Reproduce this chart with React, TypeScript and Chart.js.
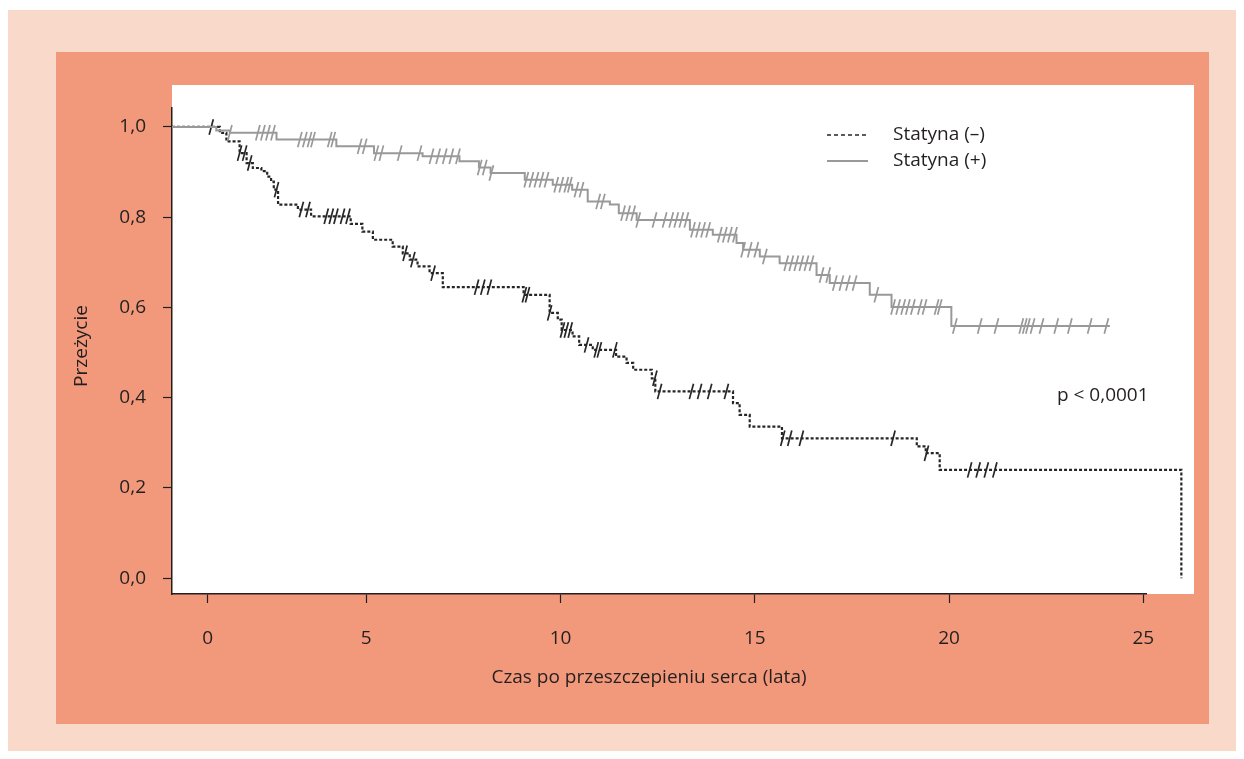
import React, { useEffect, useRef } from 'react';
import { Chart, registerables } from 'chart.js';

Chart.register(...registerables);

const FONT = '"Open Sans", Lato, sans-serif';
const TEXT = '#231f20';

// ---------- data ----------
const seriesLabels = ['Statyna (–)', 'Statyna (+)'];

// Kaplan–Meier steps, Statyna (–): time (years) and survival from that time on
const statinNegTimes = [0, 1.23, 1.4, 1.74, 1.92, 2.08, 2.3, 2.45, 2.55, 2.62, 2.73, 3.24, 3.58, 4.6, 4.9, 5.17, 5.68, 5.94, 6.12, 6.32, 6.63, 6.97, 9.05, 9.72, 9.93, 10.03, 10.31, 10.48, 10.83, 11.43, 11.7, 11.87, 12.35, 12.44, 14.44, 14.61, 14.87, 15.7, 19.17, 19.4, 19.76, 25.98];
const statinNegSurv = [1.0, 0.987, 0.968, 0.942, 0.92, 0.909, 0.902, 0.89, 0.879, 0.861, 0.828, 0.817, 0.802, 0.785, 0.768, 0.75, 0.735, 0.72, 0.706, 0.691, 0.676, 0.645, 0.628, 0.588, 0.573, 0.55, 0.536, 0.517, 0.506, 0.491, 0.477, 0.462, 0.443, 0.414, 0.388, 0.362, 0.336, 0.31, 0.292, 0.277, 0.24, 0.0];

// Kaplan–Meier steps, Statyna (+)
const statinPosTimes = [0, 1.14, 1.49, 2.69, 4.23, 5.2, 6.45, 7.4, 7.9, 8.2, 9.08, 9.8, 10.3, 10.7, 11.27, 11.5, 11.96, 13.33, 13.92, 14.53, 14.7, 15.13, 15.64, 16.59, 16.93, 17.96, 18.52, 20.06, 24.14];
const statinPosSurv = [1.0, 0.992, 0.987, 0.972, 0.957, 0.942, 0.935, 0.924, 0.91, 0.898, 0.883, 0.872, 0.861, 0.835, 0.828, 0.809, 0.794, 0.772, 0.761, 0.743, 0.728, 0.713, 0.698, 0.672, 0.654, 0.628, 0.601, 0.559, 0.559];

// censored observations (years)
const statinNegCensor = [1.01, 1.74, 1.87, 2.0, 2.69, 3.33, 3.5, 3.97, 4.1, 4.22, 4.39, 4.53, 6.0, 6.2, 6.72, 7.84, 8.0, 8.17, 9.07, 9.15, 9.72, 10.05, 10.15, 10.25, 10.67, 10.92, 11.0, 11.4, 12.43, 12.55, 13.37, 13.58, 13.84, 14.27, 15.72, 15.9, 16.2, 18.56, 19.42, 20.53, 20.75, 20.96, 21.18, 25.38];
const statinPosCensor = [1.49, 2.21, 2.34, 2.47, 2.6, 3.29, 3.42, 3.54, 3.63, 4.06, 4.15, 4.83, 4.96, 5.26, 5.39, 5.86, 6.37, 6.68, 6.85, 7.02, 7.19, 7.36, 7.92, 8.05, 8.22, 9.12, 9.25, 9.38, 9.51, 9.64, 9.89, 10.02, 10.15, 10.24, 10.41, 10.54, 10.97, 11.09, 11.61, 11.74, 11.87, 12.0, 12.42, 12.68, 12.85, 12.98, 13.11, 13.24, 13.41, 13.54, 13.67, 13.8, 14.1, 14.23, 14.36, 14.49, 14.7, 14.87, 15.04, 15.26, 15.81, 15.94, 16.07, 16.2, 16.33, 16.46, 16.72, 16.89, 17.06, 17.23, 17.4, 17.57, 18.13, 18.56, 18.69, 18.82, 18.94, 19.07, 19.25, 19.37, 19.68, 19.76, 20.15, 20.79, 21.22, 21.86, 21.95, 22.03, 22.15, 22.38, 22.76, 23.11, 23.62, 24.05];

// the reference draws its "0" tick slightly right of the curves' origin
const xTickValues = [0.92, 5, 10, 15, 20, 25];
const xTickLabels = ['0', '5', '10', '15', '20', '25'];
const yTickValues = [0, 0.2, 0.4, 0.6, 0.8, 1.0];

const xTitle = 'Czas po przeszczepieniu serca (lata)';
const yTitle = 'Przeżycie';
const pValueText = 'p < 0,0001';

// ---------- helpers ----------
const survivalAt = (times: number[], surv: number[], t: number) => {
  let v = surv[0];
  for (let i = 0; i < times.length; i++) {
    if (times[i] <= t) v = surv[i];
  }
  return v;
};

const NEG_COLOR = '#262626';
const POS_COLOR = '#999999';

const framePlugin = {
  id: 'frame',
  beforeDraw(chart: any) {
    const { ctx, chartArea, width, height } = chart;
    ctx.save();
    ctx.fillStyle = '#f9d9ca';
    ctx.fillRect(0, 2, width, height - 2);
    ctx.fillStyle = '#f2997b';
    ctx.fillRect(48, 44, 1153, 672);
    ctx.fillStyle = '#ffffff';
    ctx.fillRect(chartArea.left, chartArea.top - 23, chartArea.right - chartArea.left + 48, chartArea.bottom - chartArea.top + 23);
    ctx.restore();
  },
  afterDraw(chart: any) {
    const { ctx } = chart;
    ctx.save();
    ctx.fillStyle = TEXT;
    ctx.font = `19px ${FONT}`;
    // x title
    ctx.textAlign = 'center';
    ctx.textBaseline = 'middle';
    ctx.fillText(xTitle, 641, 670);
    // y title
    ctx.save();
    ctx.translate(74, 338);
    ctx.rotate(-Math.PI / 2);
    ctx.fillText(yTitle, 0, 0);
    ctx.restore();
    // p value
    ctx.textAlign = 'left';
    ctx.fillText(pValueText, 1049, 388);
    // legend
    const items = [
      { label: seriesLabels[0], color: NEG_COLOR, dash: [4, 3], width: 1.5, y: 127 },
      { label: seriesLabels[1], color: POS_COLOR, dash: [], width: 2, y: 153 },
    ];
    items.forEach((it) => {
      ctx.beginPath();
      ctx.setLineDash(it.dash);
      ctx.strokeStyle = it.color;
      ctx.lineWidth = it.width;
      ctx.moveTo(819, it.y);
      ctx.lineTo(860, it.y);
      ctx.stroke();
      ctx.setLineDash([]);
      ctx.fillStyle = TEXT;
      ctx.textAlign = 'left';
      ctx.textBaseline = 'middle';
      ctx.fillText(it.label, 885, it.y);
    });
    ctx.restore();
  },
};

export default function App() {
  const ref = useRef<HTMLCanvasElement | null>(null);

  useEffect(() => {
    if (!ref.current) return;
    const negLine = statinNegTimes.map((t, i) => ({ x: t, y: statinNegSurv[i] }));
    const posLine = statinPosTimes.map((t, i) => ({ x: t, y: statinPosSurv[i] }));
    const negCens = statinNegCensor.map((t) => ({ x: t, y: survivalAt(statinNegTimes, statinNegSurv, t) }));
    const posCens = statinPosCensor.map((t) => ({ x: t, y: survivalAt(statinPosTimes, statinPosSurv, t) }));

    const chart = new Chart(ref.current, {
      type: 'line',
      data: {
        datasets: [
          {
            label: seriesLabels[1],
            data: posLine,
            stepped: 'before',
            borderColor: POS_COLOR,
            borderWidth: 2,
            pointRadius: 0,
            clip: false,
          } as any,
          {
            label: seriesLabels[1] + ' censor',
            data: posCens,
            showLine: false,
            pointStyle: 'line',
            rotation: 105,
            pointRadius: 8,
            pointBorderWidth: 1.7,
            pointBorderColor: POS_COLOR,
            borderColor: POS_COLOR,
            clip: false,
          } as any,
          {
            label: seriesLabels[0],
            data: negLine,
            stepped: 'before',
            borderColor: NEG_COLOR,
            borderWidth: 2.2,
            borderDash: [3, 2],
            pointRadius: 0,
            clip: false,
          } as any,
          {
            label: seriesLabels[0] + ' censor',
            data: negCens,
            showLine: false,
            pointStyle: 'line',
            rotation: 105,
            pointRadius: 8,
            pointBorderWidth: 1.7,
            pointBorderColor: NEG_COLOR,
            borderColor: NEG_COLOR,
            clip: false,
          } as any,
        ],
      },
      options: {
        responsive: false,
        animation: false,
        devicePixelRatio: 1,
        layout: { padding: { left: 0, top: 100, right: 90, bottom: 0 } },
        plugins: { legend: { display: false }, tooltip: { enabled: false } },
        scales: {
          x: {
            type: 'linear',
            min: 0,
            max: 25.07,
            afterBuildTicks: (s: any) => {
              s.ticks = xTickValues.map((v) => ({ value: v }));
            },
            afterFit: (s: any) => {
              s.height = 157;
            },
            ticks: {
              callback: (_v: any, i: number) => xTickLabels[i],
              font: { family: FONT, size: 19 },
              color: TEXT,
              padding: 24,
              maxRotation: 0,
              autoSkip: false,
            },
            grid: {
              display: true,
              drawOnChartArea: false,
              drawTicks: true,
              tickLength: 9,
              tickColor: TEXT,
              tickWidth: 1.2,
            },
            border: { display: true, color: TEXT, width: 1.5 },
          },
          y: {
            type: 'linear',
            min: -0.035,
            max: 1.042,
            afterBuildTicks: (s: any) => {
              s.ticks = yTickValues.map((v) => ({ value: v }));
            },
            afterFit: (s: any) => {
              s.width = 164;
            },
            ticks: {
              callback: (v: any) => Number(v).toFixed(1).replace('.', ','),
              font: { family: FONT, size: 19 },
              color: TEXT,
              padding: 17,
            },
            grid: {
              display: true,
              drawOnChartArea: false,
              drawTicks: true,
              tickLength: 9,
              tickColor: TEXT,
              tickWidth: 1.2,
            },
            border: { display: true, color: TEXT, width: 1.5 },
          },
        },
      } as any,
      plugins: [framePlugin],
    });
    return () => chart.destroy();
  }, []);

  return (
    <div style={{ width: 1228, height: 743 }}>
      <canvas ref={ref} width={1228} height={743} style={{ display: 'block', width: 1228, height: 743 }} />
    </div>
  );
}
